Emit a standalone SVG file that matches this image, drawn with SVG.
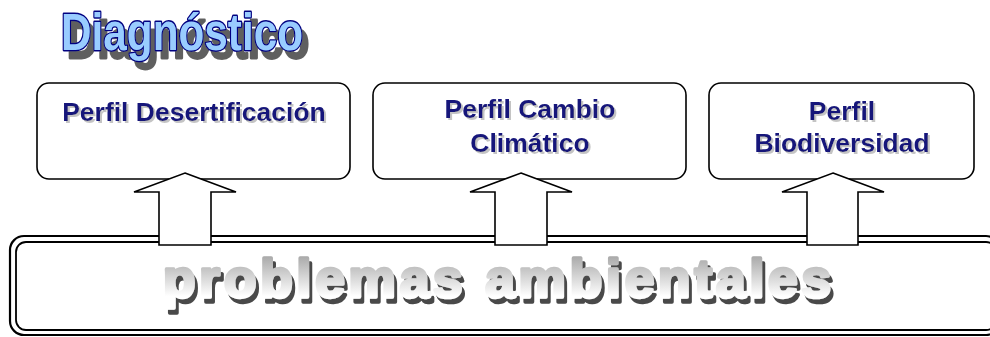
<svg xmlns="http://www.w3.org/2000/svg" width="990" height="337" viewBox="0 0 990 337">
<defs>
<linearGradient id="grey" x1="0" y1="0" x2="0" y2="1">
<stop offset="0" stop-color="#9a9a9a"/>
<stop offset="0.8" stop-color="#ffffff"/>
<stop offset="1" stop-color="#ffffff"/>
</linearGradient>
<filter id="shTitle" x="-10%" y="-20%" width="130%" height="160%">
<feFlood flood-color="#5e5e5e"/>
<feComposite in2="SourceAlpha" operator="in"/>
<feOffset dx="6" dy="8" result="s"/>
<feMerge><feMergeNode in="s"/><feMergeNode in="SourceGraphic"/></feMerge>
</filter>
<filter id="shBig" x="-5%" y="-20%" width="110%" height="160%">
<feFlood flood-color="#4a4a4a"/>
<feComposite in2="SourceAlpha" operator="in"/>
<feOffset dx="3" dy="5" result="s"/>
<feMerge><feMergeNode in="s"/><feMergeNode in="SourceGraphic"/></feMerge>
</filter>
<filter id="shLbl" x="-5%" y="-20%" width="110%" height="160%">
<feFlood flood-color="#c4c4c4"/>
<feComposite in2="SourceAlpha" operator="in"/>
<feOffset dx="1.5" dy="1.5" result="s"/>
<feMerge><feMergeNode in="s"/><feMergeNode in="SourceGraphic"/></feMerge>
</filter>
<style>
.box{fill:#fff;stroke:#000;stroke-width:1.6}
.lbl{font-family:"Liberation Sans",Arial,sans-serif;font-weight:bold;font-size:26.5px;fill:#14147a;text-anchor:middle;filter:url(#shLbl)}
.arrow{fill:#fff;stroke:#000;stroke-width:1.6;stroke-linejoin:miter}
.frame{fill:none;stroke:#000}
.title{font-family:"Liberation Sans",Arial,sans-serif;font-weight:bold;font-size:51px}
.big{font-family:"Liberation Sans",Arial,sans-serif;font-weight:bold;font-size:53px}
</style>
</defs>
<rect width="990" height="337" fill="#fff"/>

<g id="title">
<text class="title" x="61" y="50" textLength="242" lengthAdjust="spacingAndGlyphs" fill="#99ccff" stroke="#000080" stroke-width="2.8" stroke-linejoin="round" paint-order="stroke" filter="url(#shTitle)">Diagnóstico</text>
</g>

<g id="problemas">
<rect class="frame" x="10" y="236" width="990" height="99" rx="14" stroke-width="2.2"/>
<rect class="frame" x="16" y="242" width="980" height="88" rx="10" stroke-width="1.8"/>
<text class="big" x="163" y="297" textLength="668" lengthAdjust="spacing" fill="url(#grey)" stroke="url(#grey)" stroke-width="3.5" stroke-linejoin="round" filter="url(#shBig)">problemas ambientales</text>
</g>

<g id="desertificacion">
<rect class="box" x="37" y="83" width="313" height="96" rx="12"/>
<text class="lbl" x="194" y="121">Perfil Desertificación</text>
</g>

<g id="cambio">
<rect class="box" x="373" y="83" width="313" height="96" rx="12"/>
<text class="lbl" x="530" y="118">Perfil Cambio</text>
<text class="lbl" x="530" y="152">Climático</text>
</g>

<g id="biodiversidad">
<rect class="box" x="709" y="83" width="265" height="96" rx="12"/>
<text class="lbl" x="842" y="120">Perfil</text>
<text class="lbl" x="842" y="152">Biodiversidad</text>
</g>

<g id="connectors">
<polygon class="arrow" points="185,173 236,192 211,192 211,245 159,245 159,192 134,192"/>
<polygon class="arrow" points="521,173 572,192 547,192 547,245 495,245 495,192 470,192"/>
<polygon class="arrow" points="833,173 884,192 858,192 858,245 807,245 807,192 782,192"/>
</g>
</svg>
